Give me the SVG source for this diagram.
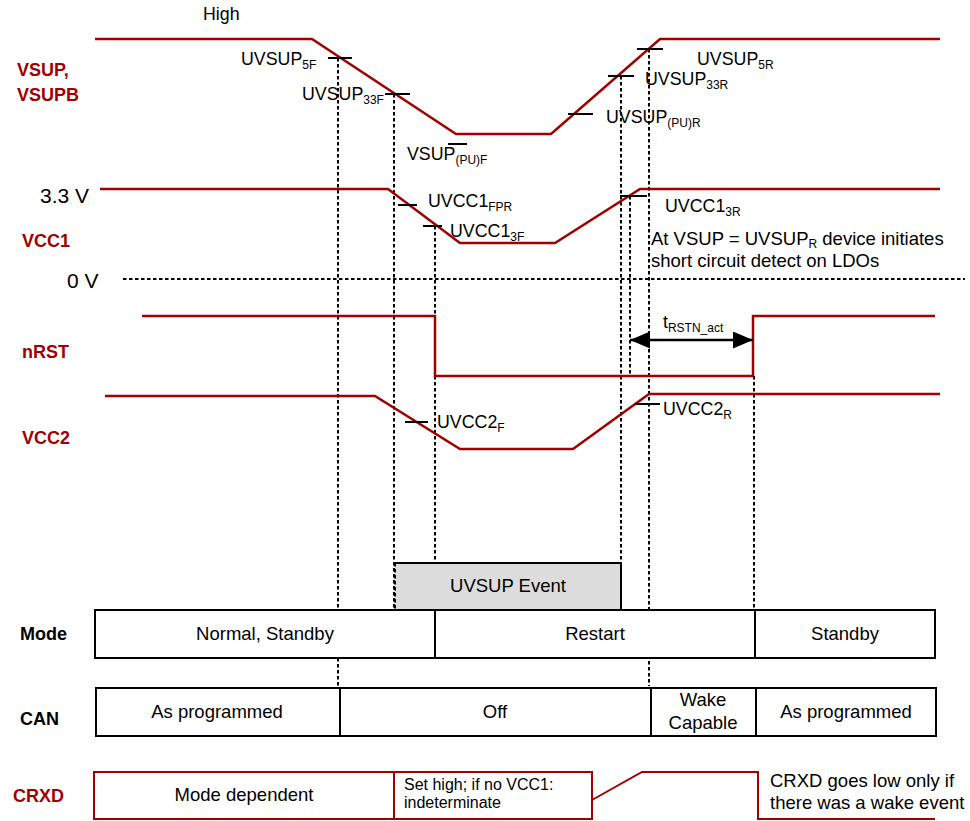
<svg xmlns="http://www.w3.org/2000/svg" width="970" height="821" viewBox="0 0 970 821">
<defs>
<style>
.t{font-family:"Liberation Sans",Arial,sans-serif;font-size:18.5px;fill:#000}
.u{font-size:17.8px}
.s{font-size:12px}
.lbl{font-family:"Liberation Sans",Arial,sans-serif;font-size:18px;font-weight:bold;fill:#a00000}
.blbl{font-family:"Liberation Sans",Arial,sans-serif;font-size:18px;font-weight:bold;fill:#000}
.tr{fill:none;stroke:#a00000;stroke-width:2.5;stroke-linejoin:miter}
.tk{stroke:#000;stroke-width:2}
.dot{stroke:#000;stroke-width:2;stroke-dasharray:3.5 2.5;fill:none}
.box{fill:#fff;stroke:#000;stroke-width:2}
.rbox{fill:none;stroke:#a00000;stroke-width:2}
</style>
<marker id="ah" viewBox="0 0 20 17" refX="20" refY="8.5" markerWidth="20" markerHeight="17" markerUnits="userSpaceOnUse" orient="auto-start-reverse">
<path d="M0,0 L20,8.5 L0,17 Z" fill="#000"/>
</marker>
</defs>

<g id="signal-labels">
<text class="lbl" x="17" y="76">VSUP,</text>
<text class="lbl" x="17" y="101">VSUPB</text>
<text class="lbl" x="22" y="247">VCC1</text>
<text class="lbl" x="22" y="358">nRST</text>
<text class="lbl" x="22" y="444">VCC2</text>
<text class="blbl" x="20" y="640">Mode</text>
<text class="blbl" x="20" y="725">CAN</text>
<text class="lbl" x="13" y="802">CRXD</text>
<text class="t u" x="203" y="20">High</text>
<text class="t" x="40" y="203" style="font-size:21px">3.3 V</text>
<text class="t" x="67" y="288" style="font-size:21px">0 V</text>
</g>

<g id="connectors">
<line class="dot" x1="123" y1="279" x2="965" y2="279"/>
<line class="dot" x1="338" y1="58" x2="338" y2="686"/>
<line class="dot" x1="394" y1="94" x2="394" y2="610"/>
<line class="dot" x1="435" y1="226" x2="435" y2="610"/>
<line class="dot" x1="621" y1="76" x2="621" y2="563"/>
<line class="dot" x1="630" y1="196" x2="630" y2="376"/>
<line class="dot" x1="649" y1="49" x2="649" y2="686"/>
<line class="dot" x1="754" y1="376" x2="754" y2="610"/>
</g>

<g id="vsup">
<polyline class="tr" points="95,39 312,39 456,134 551,134 660,39 940,39"/>
<line class="tk" x1="328" y1="58" x2="352" y2="58"/>
<line class="tk" x1="385" y1="94" x2="410" y2="94"/>
<line class="tk" x1="448" y1="144" x2="467" y2="144"/>
<line class="tk" x1="568" y1="114" x2="593" y2="114"/>
<line class="tk" x1="608" y1="76" x2="634" y2="76"/>
<line class="tk" x1="637" y1="49" x2="663" y2="49"/>
<text class="t u" x="241" y="65">UVSUP<tspan class="s" dy="4">5F</tspan></text>
<text class="t u" x="302" y="100">UVSUP<tspan class="s" dy="4">33F</tspan></text>
<text class="t u" x="407" y="160">VSUP<tspan class="s" dy="4">(PU)F</tspan></text>
<text class="t u" x="697" y="65">UVSUP<tspan class="s" dy="4">5R</tspan></text>
<text class="t u" x="645" y="85">UVSUP<tspan class="s" dy="4">33R</tspan></text>
<text class="t u" x="606" y="123">UVSUP<tspan class="s" dy="4">(PU)R</tspan></text>
</g>

<g id="vcc1">
<polyline class="tr" points="100,189 388,189 460,243 555,243 640,189 940,189"/>
<line class="tk" x1="398" y1="205" x2="417" y2="205"/>
<line class="tk" x1="423" y1="226" x2="442" y2="226"/>
<line class="tk" x1="620" y1="196" x2="647" y2="196"/>
<text class="t u" x="428" y="207">UVCC1<tspan class="s" dy="4">FPR</tspan></text>
<text class="t u" x="450" y="237">UVCC1<tspan class="s" dy="4">3F</tspan></text>
<text class="t u" x="665" y="212">UVCC1<tspan class="s" dy="4">3R</tspan></text>
<text class="t" x="651" y="245">At VSUP = UVSUP<tspan class="s" dy="3">R</tspan><tspan dy="-3"> device initiates</tspan></text>
<text class="t" x="651" y="267">short circuit detect on LDOs</text>
</g>

<g id="nrst">
<polyline class="tr" points="142,316 435,316 435,376 753,376 753,316 935,316"/>
<line stroke="#000" stroke-width="2.5" x1="630" y1="340" x2="753" y2="340" marker-start="url(#ah)" marker-end="url(#ah)"/>
<text class="t u" x="663" y="328">t<tspan class="s" dy="4">RSTN_act</tspan></text>
</g>

<g id="vcc2">
<polyline class="tr" points="105,396 375,396 460,449 573,449 649,394 940,394"/>
<line class="tk" x1="405" y1="422" x2="428" y2="422"/>
<line class="tk" x1="635" y1="404" x2="660" y2="404"/>
<text class="t u" x="437" y="428">UVCC2<tspan class="s" dy="4">F</tspan></text>
<text class="t u" x="663" y="415">UVCC2<tspan class="s" dy="4">R</tspan></text>
</g>

<g id="uvsup-event">
<rect x="395" y="563" width="226" height="47" fill="#dcdcdc"/>
<polyline points="395,563 621,563 621,610" fill="none" stroke="#000" stroke-width="2"/>
<line class="dot" x1="395" y1="563" x2="395" y2="610"/>
<text class="t" x="508" y="592" text-anchor="middle">UVSUP Event</text>
</g>

<g id="mode">
<rect class="box" x="95" y="610" width="840" height="48"/>
<line class="tk" x1="435" y1="610" x2="435" y2="658"/>
<line class="tk" x1="755" y1="610" x2="755" y2="658"/>
<text class="t" x="265" y="640" text-anchor="middle">Normal, Standby</text>
<text class="t" x="595" y="640" text-anchor="middle">Restart</text>
<text class="t" x="845" y="640" text-anchor="middle">Standby</text>
</g>

<g id="can">
<rect class="box" x="96" y="688" width="840" height="48"/>
<line class="tk" x1="340" y1="688" x2="340" y2="736"/>
<line class="tk" x1="651" y1="688" x2="651" y2="736"/>
<line class="tk" x1="756" y1="688" x2="756" y2="736"/>
<text class="t" x="217" y="718" text-anchor="middle">As programmed</text>
<text class="t" x="495" y="718" text-anchor="middle">Off</text>
<text class="t" x="703" y="706" text-anchor="middle">Wake</text>
<text class="t" x="703" y="729" text-anchor="middle">Capable</text>
<text class="t" x="846" y="718" text-anchor="middle">As programmed</text>
</g>

<g id="crxd">
<rect class="rbox" x="94" y="772" width="498" height="47"/>
<line class="rbox" x1="394" y1="772" x2="394" y2="819"/>
<polyline class="rbox" points="592,800 642,772 758,772 758,819 935,819"/>
<text class="t" x="244" y="801" text-anchor="middle">Mode dependent</text>
<text class="t" x="404" y="790" style="font-size:16px">Set high; if no VCC1:</text>
<text class="t" x="404" y="808" style="font-size:16px">indeterminate</text>
<text class="t" x="770" y="787">CRXD goes low only if</text>
<text class="t" x="770" y="809">there was a wake event</text>
</g>
</svg>
